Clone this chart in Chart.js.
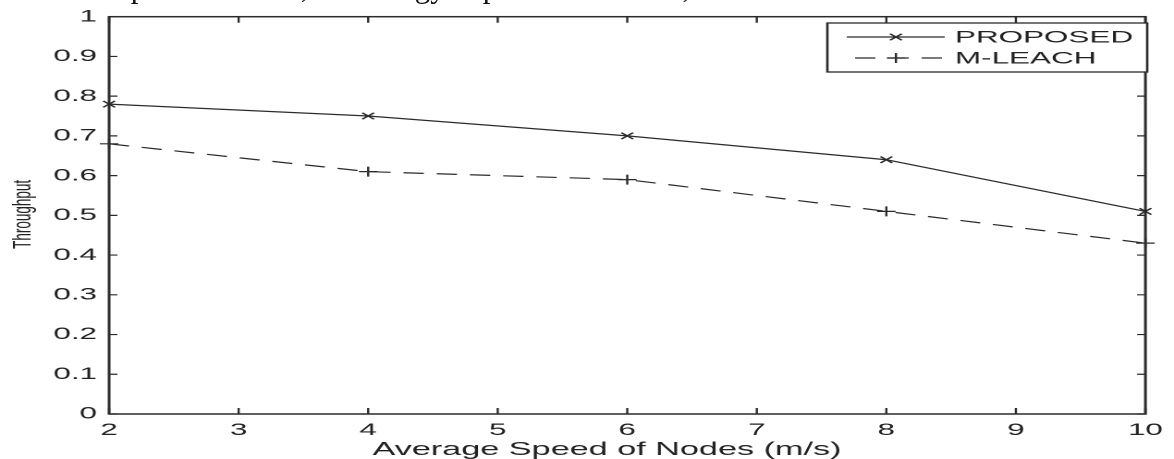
<!DOCTYPE html>
<html>
<head>
<meta charset="utf-8">
<script src="https://cdn.jsdelivr.net/npm/chart.js@4.4.1/dist/chart.umd.min.js"></script>
<style>
    html, body { margin: 0; padding: 0; background: #fff; overflow: hidden; }
    #wrap { position: relative; width: 1174px; height: 459px; }
    #chart { position: absolute; left: 0; top: 0; }
    #cut {
        position: absolute; left: 0px; top: -29px; white-space: nowrap;
        font: 31px/31px "Liberation Serif", serif; color: #111;
    }
</style>
</head>
<body>
<div id="wrap">
    <!-- the picture is a MATLAB figure stretched sideways, so the canvas is drawn narrow and widened by CSS -->
    <canvas id="chart" width="635" height="459" style="width:1174px;height:459px"></canvas>
    <div id="cut">more data packets. Thus, the energy expenditure is less, and the load is reduced. It is</div>
</div>
<script>
const speeds = [2, 4, 6, 8, 10];
const proposed = [0.78, 0.75, 0.70, 0.64, 0.51];
const mLeach = [0.68, 0.61, 0.59, 0.51, 0.43];
const seriesNames = ['PROPOSED', 'M-LEACH'];
const xTitle = 'Average Speed of Nodes (m/s)';
const yTitle = 'Throughput';

const ink = '#2b2b2b';
const tickFont = { family: '"Liberation Sans", Arial, sans-serif', size: 17 };

function toPoints(values) {
    return speeds.map((x, i) => ({ x: x, y: values[i] }));
}

function drawMarker(ctx, style, x, y, r) {
    ctx.beginPath();
    if (style === 'crossRot') {
        const d = r * Math.SQRT1_2;
        ctx.moveTo(x - d, y - d); ctx.lineTo(x + d, y + d);
        ctx.moveTo(x - d, y + d); ctx.lineTo(x + d, y - d);
    } else {
        ctx.moveTo(x - r, y); ctx.lineTo(x + r, y);
        ctx.moveTo(x, y - r); ctx.lineTo(x, y + r);
    }
    ctx.stroke();
}

// box, inward ticks, legend and axis titles in the MATLAB look
const framePlugin = {
    id: 'frame',
    afterDraw(chart) {
        const { ctx, chartArea: a, scales } = chart;
        ctx.save();
        ctx.strokeStyle = ink;
        ctx.lineWidth = 1.5;
        ctx.strokeRect(a.left, a.top, a.right - a.left, a.bottom - a.top);

        ctx.lineWidth = 1.2;
        ctx.beginPath();
        scales.x.ticks.forEach(t => {
            const px = scales.x.getPixelForValue(t.value);
            ctx.moveTo(px, a.bottom); ctx.lineTo(px, a.bottom - 6);
            ctx.moveTo(px, a.top); ctx.lineTo(px, a.top + 6);
        });
        scales.y.ticks.forEach(t => {
            const py = scales.y.getPixelForValue(t.value);
            ctx.moveTo(a.left, py); ctx.lineTo(a.left + 4.5, py);
            ctx.moveTo(a.right, py); ctx.lineTo(a.right - 4.5, py);
        });
        ctx.stroke();

        // legend
        const lx = 447.5, ly = 23, lw = 173, lh = 49;
        ctx.fillStyle = '#fff';
        ctx.fillRect(lx, ly, lw, lh);
        ctx.lineWidth = 1.3;
        ctx.strokeRect(lx, ly, lw, lh);
        const rows = [37, 58];
        chart.data.datasets.forEach((ds, i) => {
            const y = rows[i];
            ctx.lineWidth = ds.borderWidth;
            ctx.setLineDash(ds.borderDash || []);
            ctx.beginPath();
            ctx.moveTo(i === 0 ? 458 : 462.5, y);
            ctx.lineTo(511, y);
            ctx.stroke();
            ctx.setLineDash([]);
            drawMarker(ctx, ds.pointStyle, 484.6, y, ds.pointRadius);
            ctx.fillStyle = '#222';
            ctx.font = '17px "Liberation Sans", Arial, sans-serif';
            ctx.textAlign = 'left';
            ctx.textBaseline = 'middle';
            ctx.fillText(ds.label, 516.5, y + 1);
        });

        // axis titles
        ctx.fillStyle = '#222';
        ctx.font = '18.5px "Liberation Sans", Arial, sans-serif';
        ctx.textAlign = 'center';
        ctx.textBaseline = 'middle';
        ctx.fillText(xTitle, 328.3, 450);

        ctx.translate(13, (a.top + a.bottom) / 2 - 1);
        ctx.rotate(-Math.PI / 2);
        ctx.font = '13.5px "Liberation Sans", Arial, sans-serif';
        ctx.fillText(yTitle, 0, 0);
        ctx.restore();
    }
};

new Chart(document.getElementById('chart').getContext('2d'), {
    type: 'line',
    data: {
        datasets: [
            {
                label: seriesNames[0],
                data: toPoints(proposed),
                borderColor: ink,
                borderWidth: 1.2,
                pointStyle: 'crossRot',
                pointRadius: 4.5,
                pointBorderWidth: 1.2,
                pointBorderColor: ink,
                tension: 0,
                clip: false,
            },
            {
                label: seriesNames[1],
                data: toPoints(mLeach),
                borderColor: ink,
                borderWidth: 1.2,
                borderDash: [11, 7],
                pointStyle: 'cross',
                pointRadius: 5,
                pointBorderWidth: 1.2,
                pointBorderColor: ink,
                tension: 0,
                clip: false,
            },
        ],
    },
    options: {
        responsive: false,
        animation: false,
        devicePixelRatio: 2,
        layout: { padding: { top: 14.5, right: 7.6, left: 0, bottom: 0 } },
        plugins: {
            legend: { display: false },
            tooltip: { enabled: false },
        },
        scales: {
            x: {
                type: 'linear',
                min: 2,
                max: 10,
                grid: { display: false, drawTicks: false },
                border: { display: false },
                ticks: { stepSize: 1, padding: 6, color: '#222', font: tickFont, maxRotation: 0 },
                afterFit: (scale) => { scale.height = 45; },
            },
            y: {
                min: 0,
                max: 1,
                grid: { display: false, drawTicks: false },
                border: { display: false },
                ticks: {
                    stepSize: 0.1,
                    padding: 6.5,
                    color: '#222',
                    font: tickFont,
                    callback: (value) => (value === 0 || value === 1 ? String(value) : value.toFixed(1)),
                },
                afterFit: (scale) => { scale.width = 59; },
            },
        },
    },
    plugins: [framePlugin],
});
</script>
</body>
</html>
